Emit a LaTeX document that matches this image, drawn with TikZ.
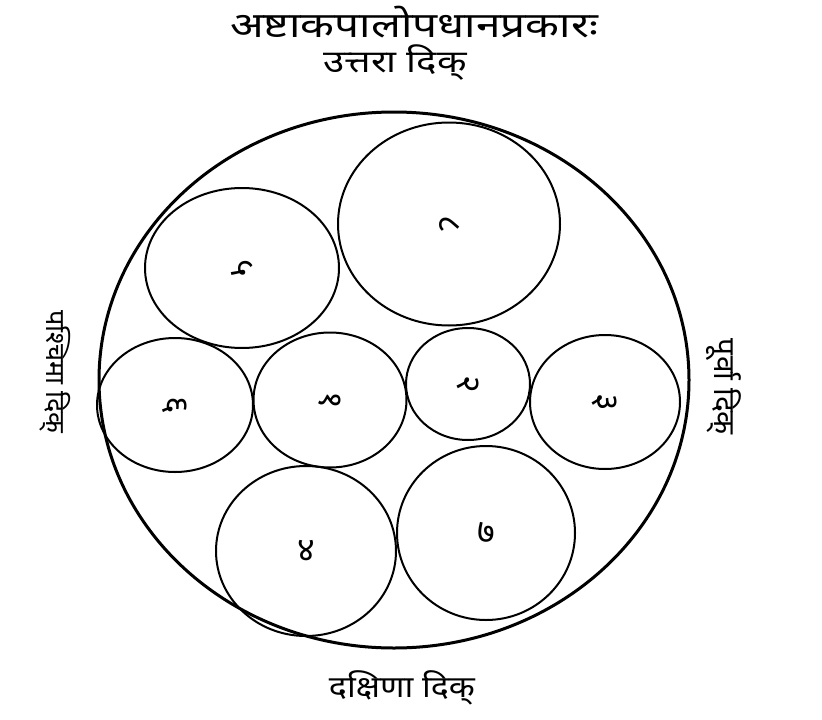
\documentclass[tikz,border=0pt]{standalone}
\usepackage{fontspec}
\setmainfont[Script=Devanagari]{Noto Sans}
\usetikzlibrary{shapes.geometric}
\tikzset{
  ring/.style={ellipse, draw, line width=2pt, inner sep=0pt},
  outerring/.style={ellipse, draw, line width=3pt, inner sep=0pt},
  numtxt/.style={font=\fontsize{34}{36}\selectfont},
}
\begin{document}
\begin{tikzpicture}[x=1pt,y=-1pt]
\useasboundingbox (0,0) rectangle (822,720);
\node[font=\fontsize{35}{40}\selectfont, xscale=1.26] (title) at (414,22) {अष्टाकपालोपधानप्रकारः};
\node[font=\fontsize{31}{36}\selectfont, xscale=1.24] (north) at (395,63) {उत्तरा दिक्};
\node[font=\fontsize{30}{34}\selectfont, xscale=1.13] (south) at (402,688) {दक्षिणा दिक्};
\node[font=\fontsize{27}{32}\selectfont, rotate=-90] (west) at (55,372) {पश्चिमा दिक्};
\node[font=\fontsize{30}{34}\selectfont, rotate=-90] (east) at (724,387) {पूर्वा दिक्};
\node[outerring, minimum width=590pt, minimum height=536pt] (outer) at (394,380) {};
\node[ring, minimum width=194pt, minimum height=160pt] (c5) at (242,268) {};
\node[numtxt, rotate=-90] (n5) at (c5) {५};
\node[ring, minimum width=222pt, minimum height=203pt] (c8) at (449,224) {};
\node[numtxt, rotate=-90] (n8) at (c8) {८};
\node[ring, minimum width=156pt, minimum height=134pt] (c6) at (175,405) {};
\node[numtxt, rotate=-90] (n6) at (c6) {६};
\node[ring, minimum width=153pt, minimum height=135pt] (c1) at (330,400) {};
\node[numtxt, rotate=-90] (n1) at (c1) {१};
\node[ring, minimum width=124pt, minimum height=112pt] (c2) at (468,384) {};
\node[numtxt, rotate=-90] (n2) at (c2) {२};
\node[ring, minimum width=150pt, minimum height=134pt] (c3) at (605,402) {};
\node[numtxt, rotate=-90] (n3) at (c3) {३};
\node[ring, minimum width=180pt, minimum height=170pt] (c4) at (306,551) {};
\node[numtxt] (n4) at (c4) {४};
\node[ring, minimum width=178pt, minimum height=174pt] (c7) at (486,533) {};
\node[numtxt] (n7) at (c7) {७};
\end{tikzpicture}
\end{document}
